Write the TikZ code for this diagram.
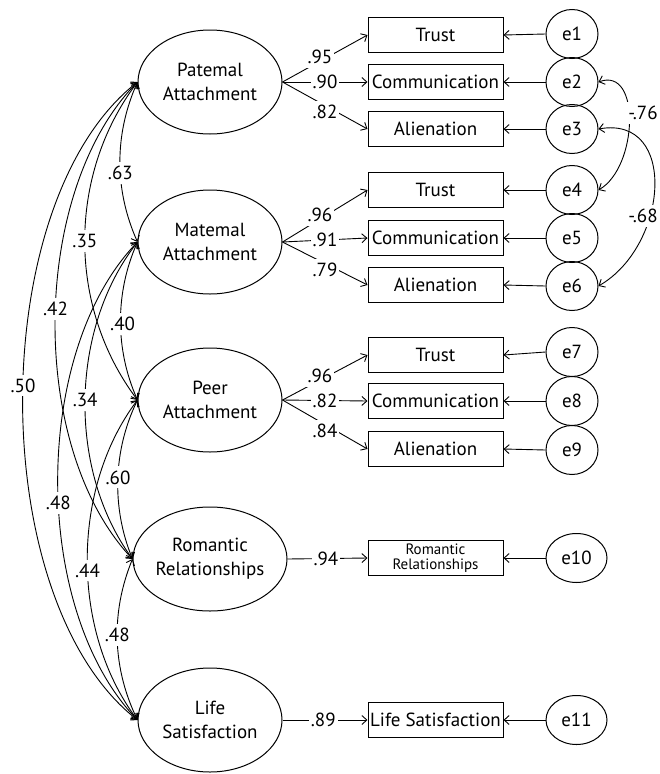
\documentclass[tikz,border=0pt]{standalone}
\usepackage{fontspec}
\setmainfont{PT Sans}
\usetikzlibrary{arrows.meta,shapes.geometric}
\begin{document}
\begin{tikzpicture}[x=1pt,y=1pt,
  lat/.style={ellipse, draw, line width=1pt, minimum width=144pt, minimum height=104pt, inner sep=0pt, align=center, font=\fontsize{19}{24}\selectfont},
  obs/.style={rectangle, draw, line width=1pt, minimum width=135pt, minimum height=35pt, inner sep=0pt, font=\fontsize{19}{22}\selectfont},
  err/.style={ellipse, draw, line width=1pt, minimum width=52pt, minimum height=49pt, inner sep=0pt, font=\fontsize{19}{22}\selectfont},
  errw/.style={err, minimum width=61pt},
  lbl/.style={fill=white, inner xsep=2pt, inner ysep=4pt, font=\fontsize{19}{22}\selectfont},
  arr/.style={line width=0.9pt, -{Straight Barb[length=5pt,width=9pt]}},
  cov/.style={line width=0.9pt, {Straight Barb[length=5pt,width=9pt]}-{Straight Barb[length=5pt,width=9pt]}},
]
\useasboundingbox (0,0) rectangle (660,-774);
% latent
\node[lat] (P)  at (210,-82)  {Patemal\\Attachment};
\node[lat] (M)  at (210,-242) {Matemal\\Attachment};
\node[lat] (Pe) at (210,-400) {Peer\\Attachment};
\node[lat] (R)  at (210,-559) {Romantic\\Relationships};
\node[lat] (L)  at (210,-720) {Life\\Satisfaction};
% observed
\node[obs] (t1) at (435.5,-35)  {Trust};
\node[obs] (c1) at (435.5,-82)  {Communication};
\node[obs] (a1) at (435.5,-129) {Alienation};
\node[obs] (t2) at (435.5,-190) {Trust};
\node[obs] (c2) at (435.5,-238) {Communication};
\node[obs] (a2) at (435.5,-285) {Alienation};
\node[obs] (t3) at (435.5,-355) {Trust};
\node[obs] (c3) at (435.5,-401) {Communication};
\node[obs] (a3) at (435.5,-449) {Alienation};
\node[obs, align=center, font=\fontsize{15}{15}\selectfont] (rb) at (435.5,-558) {Romantic\\Relationships};
\node[obs] (lb) at (435.5,-720) {Life Satisfaction};
% errors
\node[err] (e1) at (572,-34)  {e1};
\node[err] (e2) at (572,-82)  {e2};
\node[err] (e3) at (572,-129) {e3};
\node[err] (e4) at (572,-190) {e4};
\node[err] (e5) at (572,-238) {e5};
\node[err] (e6) at (572,-286) {e6};
\node[err] (e7) at (572,-352) {e7};
\node[err] (e8) at (572,-401) {e8};
\node[err] (e9) at (572,-450) {e9};
\node[errw] (e10) at (576.5,-558) {e10};
\node[errw] (e11) at (576.5,-720) {e11};
% loadings
\draw[arr] (P.east) -- node[lbl,pos=0.44,yshift=4pt]{.95} (t1.west);
\draw[arr] (P.east) -- node[lbl,pos=0.5]{.90} (c1.west);
\draw[arr] (P.east) -- node[lbl,pos=0.5,yshift=-6pt]{.82} (a1.west);
\draw[arr] (M.east) -- node[lbl,pos=0.44,yshift=4pt]{.96} (t2.west);
\draw[arr] (M.east) -- node[lbl,pos=0.5]{.91} (c2.west);
\draw[arr] (M.east) -- node[lbl,pos=0.5,yshift=-6pt]{.79} (a2.west);
\draw[arr] (Pe.east) -- node[lbl,pos=0.44,yshift=4pt]{.96} (t3.west);
\draw[arr] (Pe.east) -- node[lbl,pos=0.5]{.82} (c3.west);
\draw[arr] (Pe.east) -- node[lbl,pos=0.5,yshift=-6pt]{.84} (a3.west);
\draw[arr] (R.east) -- node[lbl,pos=0.48]{.94} (rb.west);
\draw[arr] (L.east) -- node[lbl,pos=0.48]{.89} (lb.west);
% error arrows
\foreach \e/\b in {e1/t1,e2/c1,e3/a1,e4/t2,e5/c2,e6/a2,e7/t3,e8/c3,e9/a3,e10/rb,e11/lb}
  \draw[arr] (\e.west) -- (\b.east);
% error covariances
\draw[cov] (e2.east) to[out=20,in=30,looseness=1.08] (e4.east);
\node[lbl, inner xsep=1pt] (l76) at (643,-113) {-.76};
\draw[cov] (e3.east) to[out=10,in=30,looseness=1.32] (e6.east);
\node[lbl, inner xsep=1pt] (l68) at (643,-216) {-.68};
% latent covariances
\draw[cov] (P.west) to[bend right=24,looseness=0.92] node[lbl,pos=0.57]{.63} (M.west);
\draw[cov] (P.west) to[bend right=37,looseness=0.94] node[lbl,pos=0.5]{.35} (Pe.west);
\draw[cov] (P.west) to[bend right=44,looseness=0.82] node[lbl,pos=0.48]{.42} (R.west);
\draw[cov] (P.west) to[bend right=52,looseness=0.78] node[lbl,pos=0.48]{.50} (L.west);
\draw[cov] (M.west) to[bend right=24,looseness=0.9] node[lbl,pos=0.52,xshift=2pt]{.40} (Pe.west);
\draw[cov] (M.west) to[bend right=37,looseness=0.89] node[lbl,pos=0.5]{.34} (R.west);
\draw[cov] (M.west) to[bend right=44,looseness=0.82] node[lbl,pos=0.54]{.48} (L.west);
\draw[cov] (Pe.west) to[bend right=24,looseness=0.9] node[lbl,pos=0.49]{.60} (R.west);
\draw[cov] (Pe.west) to[bend right=37,looseness=0.89] node[lbl,pos=0.53]{.44} (L.west);
\draw[cov] (R.west) to[bend right=24,looseness=0.92] node[lbl,pos=0.47]{.48} (L.west);
\end{tikzpicture}
\end{document}
